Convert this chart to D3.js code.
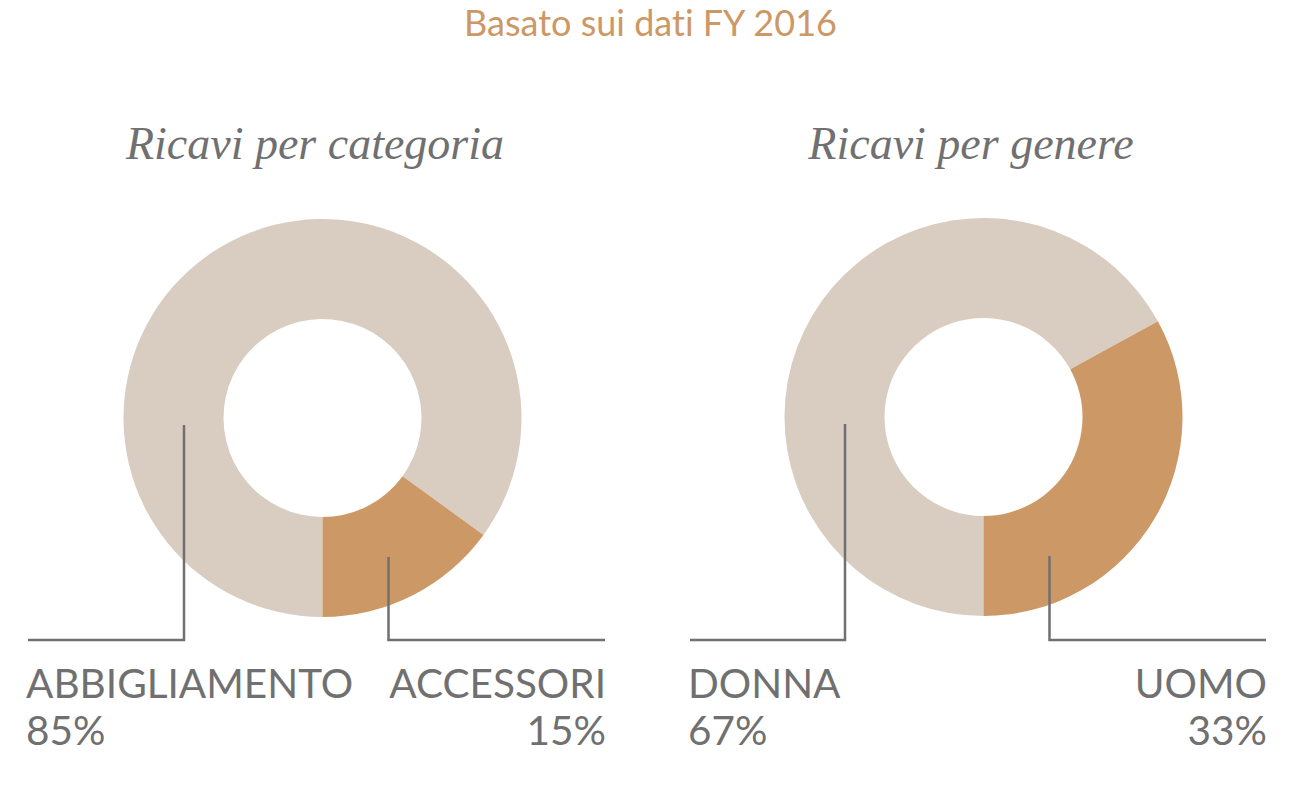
<!DOCTYPE html>
<html><head><meta charset="utf-8">
<script src="https://cdn.jsdelivr.net/npm/d3@7"></script>
<style>body{margin:0;background:#fff} text{font-variant-ligatures:none}</style>
</head><body>
<svg id="c" width="1290" height="808"></svg>
<script>
const title = "Basato sui dati FY 2016";
const chartTitles = ["Ricavi per categoria", "Ricavi per genere"];
const categoryLabels = ["ABBIGLIAMENTO", "ACCESSORI"];
const categoryValues = [85, 15];
const genderLabels = ["DONNA", "UOMO"];
const genderValues = [67, 33];
const colors = ["#d8cdc0", "#cc9866"];

const svg = d3.select("#c");
const textColor = "#707070";
svg.append("text").attr("x", 650.5).attr("y", 36).attr("text-anchor", "middle")
  .attr("font-family", "Lato").attr("font-size", 36).attr("fill", "#cc9866").text(title);

const charts = [
  {cx: 322.5, cy: 418, labels: categoryLabels, values: categoryValues, title: chartTitles[0], tx: 315, left: 28, right: 605},
  {cx: 983.5, cy: 417, labels: genderLabels, values: genderValues, title: chartTitles[1], tx: 971, left: 690, right: 1266}
];
const pie = d3.pie().sort(null).startAngle(Math.PI).endAngle(3 * Math.PI);
const arc = d3.arc().innerRadius(99).outerRadius(199);

charts.forEach(c => {
  const g = svg.append("g");
  g.append("text").attr("x", c.tx).attr("y", 159).attr("text-anchor", "middle")
    .attr("font-family", "Liberation Serif").attr("font-style", "italic").attr("font-size", 46)
    .attr("fill", textColor).text(c.title);
  const dg = g.append("g").attr("transform", `translate(${c.cx},${c.cy})`);
  dg.selectAll("path").data(pie(c.values)).join("path").attr("d", arc).attr("fill", (d, i) => colors[i]);
  const lineY = 640;
  const p0 = [c.cx - 138.5, c.cy + 7];
  const p1 = [c.cx + 66, c.cy + 139];
  g.append("path").attr("d", `M${p0[0]},${p0[1]}V${lineY}H${c.left}`).attr("fill", "none").attr("stroke", textColor).attr("stroke-width", 2.5);
  g.append("path").attr("d", `M${p1[0]},${p1[1]}V${lineY}H${c.right}`).attr("fill", "none").attr("stroke", textColor).attr("stroke-width", 2.5);
  const font = t => t.attr("font-family", "Lato").attr("font-size", 40.5).attr("fill", textColor);
  font(g.append("text").attr("x", c.left - 2).attr("y", 698)).text(c.labels[0]);
  font(g.append("text").attr("x", c.left - 2).attr("y", 745)).text(c.values[0] + "%");
  font(g.append("text").attr("x", c.right + 1).attr("y", 698).attr("text-anchor", "end")).text(c.labels[1]);
  font(g.append("text").attr("x", c.right + 1).attr("y", 745).attr("text-anchor", "end")).text(c.values[1] + "%");
});
</script>
</body></html>
